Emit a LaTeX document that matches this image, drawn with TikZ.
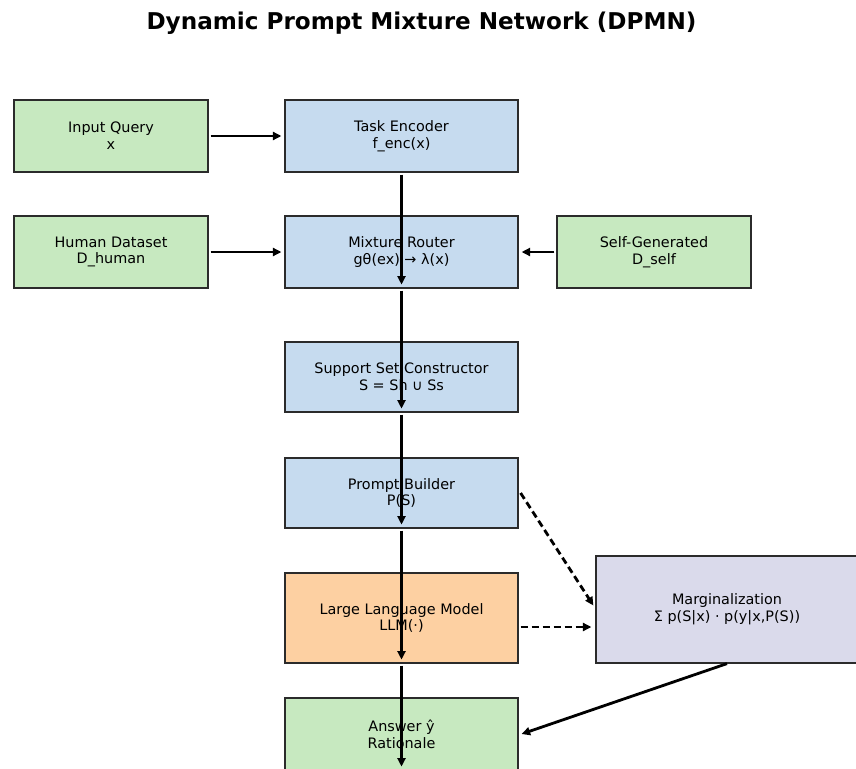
\documentclass[tikz,border=0pt]{standalone}
\usepackage{fontspec}
\setmainfont{DejaVu Sans}
\usetikzlibrary{arrows.meta}
\definecolor{cgreen}{HTML}{C7E9C0}
\definecolor{cblue}{HTML}{C6DBEF}
\definecolor{corange}{HTML}{FDD0A2}
\definecolor{cpurple}{HTML}{DADAEB}
\definecolor{cedge}{HTML}{2B2B2B}
\begin{document}
\begin{tikzpicture}[x=1pt,y=-1pt,
  box/.style={draw=cedge, line width=1.2pt, align=center, inner sep=0pt,
    font=\fontsize{14.4}{16.8}\selectfont, text=black},
  flow/.style={line width=2.8pt, -{Triangle[length=8.5pt,width=8pt]}},
  dflow/.style={flow, dash pattern=on 7pt off 4pt}]
\useasboundingbox (0,0) rectangle (856,768);
\node[anchor=base, font=\fontsize{23.1}{26}\selectfont\bfseries] (title) at (421.5,30) {Dynamic Prompt Mixture Network (DPMN)};
% boxes
\node[box, fill=cgreen, minimum width=194pt, minimum height=72pt] (iq) at (111,136) {Input Query\\x};
\node[box, fill=cblue, minimum width=233pt, minimum height=72pt] (te) at (401.5,136) {Task Encoder\\f\_enc(x)};
\node[box, fill=cgreen, minimum width=194pt, minimum height=72pt] (hd) at (111,252) {Human Dataset\\D\_human};
\node[box, fill=cblue, minimum width=233pt, minimum height=72pt] (mr) at (401.5,252) {Mixture Router\\gθ(ex) → λ(x)};
\node[box, fill=cgreen, minimum width=194pt, minimum height=72pt] (sg) at (654,252) {Self-Generated\\D\_self};
\node[box, fill=cblue, minimum width=233pt, minimum height=70pt] (ss) at (401.5,377) {Support Set Constructor\\S = Sh ∪ Ss};
\node[box, fill=cblue, minimum width=233pt, minimum height=70pt] (pb) at (401.5,493) {Prompt Builder\\P(S)};
\node[box, fill=corange, minimum width=233pt, minimum height=90pt] (llm) at (401.5,618) {Large Language Model\\LLM(·)};
\node[box, fill=cpurple, minimum width=262pt, minimum height=107pt] (marg) at (727,609.5) {Marginalization\\Σ p(S|x) · p(y|x,P(S))};
\node[box, fill=cgreen, minimum width=233pt, minimum height=72pt] (ans) at (401.5,734) {Answer ŷ\\Rationale};
% horizontal arrows
\draw[flow] ([xshift=2pt]iq.east) -- ([xshift=-3pt]te.west);
\draw[flow] ([xshift=2pt]hd.east) -- ([xshift=-3pt]mr.west);
\draw[flow] ([xshift=-2pt]sg.west) -- ([xshift=3pt]mr.east);
% vertical arrows
\draw[flow] ([yshift=-2pt]te.south) -- ([yshift=4pt]mr.south);
\draw[flow] ([yshift=-2pt]mr.south) -- ([yshift=4pt]ss.south);
\draw[flow] ([yshift=-2pt]ss.south) -- ([yshift=4pt]pb.south);
\draw[flow] ([yshift=-2pt]pb.south) -- ([yshift=4pt]llm.south);
\draw[flow] ([yshift=-2pt]llm.south) -- ([yshift=4pt]ans.south);
% dashed arrows
\draw[dflow] ([xshift=2pt]pb.east) -- ([xshift=-2pt,yshift=4pt]marg.west);
\draw[dflow] ([xshift=2pt,yshift=-9pt]llm.east) -- ([xshift=-4pt,yshift=-9pt]llm.east -| marg.west);
% marginalization to answer
\draw[flow] (marg.south) -- ([xshift=3pt]ans.east);
\end{tikzpicture}
\end{document}
